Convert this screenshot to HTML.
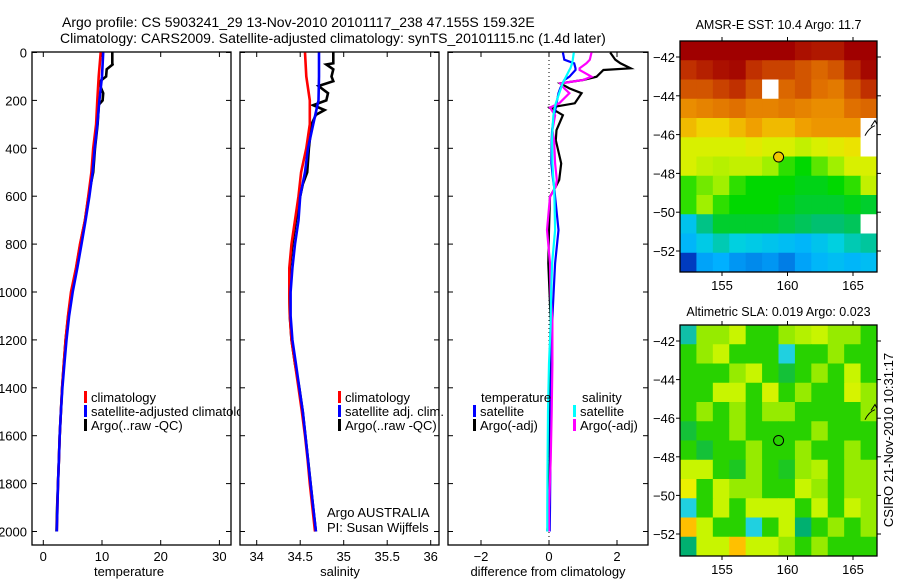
<!DOCTYPE html>
<html><head><meta charset="utf-8">
<style>
html,body{margin:0;padding:0;background:#fff;}
svg{display:block;font-family:"Liberation Sans",sans-serif;}
</style></head>
<body>
<svg id="fig" width="900" height="580" viewBox="0 0 900 580" xmlns="http://www.w3.org/2000/svg">
<rect x="0" y="0" width="900" height="580" fill="#fff"/>
<text x="62" y="27" font-size="14">Argo profile: CS 5903241_29 13-Nov-2010 20101117_238 47.155S 159.32E</text>
<text x="60" y="43" font-size="14">Climatology: CARS2009. Satellite-adjusted climatology: synTS_20101115.nc (1.4d later)</text>
<g id="g-main"></g>
</svg>
<script>
// ---------- data ----------
const depthLevels = [0,100,200,300,400,500,600,700,800,900,1000,1100,1200,1300,1400,1500,1600,1700,1800,1900,2000];
const tempClim   = [9.78,9.44,9.2,9.0,8.5,8.2,7.67,7.1,6.25,5.57,4.72,4.2,3.8,3.5,3.2,3.0,2.8,2.65,2.5,2.4,2.3];
const tempSat    = [10.2,10.0,9.55,9.2,8.75,8.4,7.85,7.2,6.5,5.8,5.0,4.4,3.95,3.6,3.25,3.0,2.8,2.65,2.5,2.4,2.3];
const salClim    = [34.555,34.57,34.61,34.61,34.57,34.51,34.48,34.44,34.4,34.375,34.375,34.38,34.4,34.44,34.48,34.52,34.555,34.585,34.61,34.64,34.67];
const salSat     = [34.716,34.716,34.71,34.65,34.59,34.555,34.5,34.48,34.44,34.41,34.39,34.39,34.41,34.45,34.49,34.53,34.56,34.59,34.62,34.65,34.68];
const argoDepth  = [0,45,50,70,100,120,140,170,200,220,240,260,300,400,500,550,600,700,800,900,1000,1100,1200,1300,1400,1500,1600,1700,1800,1900,2000];
const argoTemp   = [11.76,11.76,11.8,10.8,10.7,9.66,9.7,10.2,10.1,9.37,9.4,9.35,9.25,8.8,8.5,8.1,7.7,7.1,6.3,5.6,4.8,4.25,3.8,3.5,3.2,3.0,2.8,2.65,2.5,2.35,2.25];
const argoSal    = [34.88,34.88,34.8,34.88,34.86,34.88,34.71,34.82,34.8,34.65,34.78,34.68,34.63,34.6,34.58,34.53,34.5,34.45,34.41,34.38,34.375,34.38,34.4,34.44,34.49,34.53,34.56,34.59,34.62,34.65,34.68];
const diffDepth  = [0,30,45,66,73,101,115,129,150,170,212,230,262,324,366,463,532,560,602,741,880,1019,1130,1300,1500,1700,1900,2000];
const diffTempArgo = [1.8,1.95,2.1,2.4,1.6,1.4,1.0,0.33,0.6,0.96,0.76,0.03,0.41,0.22,0.2,0.36,0.3,0.2,0.03,0.0,-0.02,0.02,0.05,0.02,0.0,0.02,0.0,-0.05];
const diffTempSat  = [0.41,0.45,0.74,0.78,0.78,0.6,0.45,0.4,0.33,0.28,0.22,0.2,0.15,0.09,0.08,0.07,0.12,0.15,0.18,0.28,0.18,0.13,0.09,0.07,0.05,0.04,0.03,0.02];
const diffSalArgo  = [1.25,1.2,1.1,0.9,0.9,1.25,1.0,0.33,0.45,0.6,0.3,0.03,0.18,0.1,0.15,0.18,0.23,0.2,0.03,-0.06,0.03,0.05,0.1,0.1,0.08,0.05,0.0,0.0];
const diffSalSat   = [0.73,0.7,0.68,0.63,0.6,0.5,0.45,0.4,0.35,0.3,0.2,0.17,0.13,0.1,0.09,0.1,0.13,0.15,0.16,0.18,0.09,0.06,0.05,0.0,-0.03,-0.04,-0.05,-0.05];
const tempTicks = [0,10,20,30];
const salTicks = [34,34.5,35,35.5,36];
const salTickLabels = ["34","34.5","35","35.5","36"];
const diffTicks = [-2,0,2];
const depthTicks = [0,200,400,600,800,1000,1200,1400,1600,1800,2000];
const lonTicks = [155,160,165];
const latTicks = [-42,-44,-46,-48,-50,-52];
// SST grid (deg C), rows north->south, null = no data
const sstGrid = [
[14,14,14,14,14,13.8,13.8,13.6,13.5,13.5,13.8,14],
[13.2,13.4,13.6,13.7,13.2,13,13,12.8,12.6,12.8,13.3,13.7],
[12.8,12.8,13,13.2,12.8,null,12.6,12.8,12.5,12.4,12.8,13.2],
[12.2,12.3,12.4,12.5,12.3,12.3,12.4,12.3,12.2,12.2,12.5,12.6],
[11.8,11.6,11.6,11.8,12.0,11.8,11.8,12.0,12.1,12.1,12.1,null],
[11,11,11,11,11.2,11,11,10.8,11,11.2,11.4,null],
[11,10.8,10.7,10.8,10.8,10.5,10,9.8,10.2,10.5,11,11],
[10,10.3,10.5,10,9.8,9.8,9.8,9.7,9.7,9.8,10,10.8],
[10,10.5,10,9.8,9.8,9.8,9.7,9.6,9.6,9.6,9.7,9.6],
[8.6,9.2,9.6,9.6,9.6,9.6,9.5,9.4,9.3,9.3,9.4,null],
[8.4,8.7,9,8.8,8.7,8.6,8.5,8.4,8.6,8.8,9,9.1],
[7.4,8.2,8.3,8.1,8.0,8.1,7.9,8.2,8.4,8.5,8.4,8.5]];
// SLA grid (m)
const slaGrid = [
[-0.15,0.05,0.05,0.1,0,0,0.05,0.08,0.1,0.05,0.05,0],
[0,0.05,0.1,0,0,0,-0.2,0,0,0.05,0,0],
[0,0,0,0.05,0.1,0,-0.05,0,0.05,0,0.1,0],
[0,0,0.1,0.1,0,0.12,0,0.05,0,0,0.12,0.05],
[0,0.05,0,0.05,0,0.05,0.05,0,0,0,0,0.05],
[-0.05,0,0,0.05,0,0,0,0,0.05,0,0,0],
[0,-0.05,0,0,0.05,0,0,0.05,0,0,0.05,0],
[0.1,0.1,0,-0.03,0.05,0,-0.03,0.05,0.08,0,0.05,0.05],
[0.15,0,0.1,0.05,0.05,0,0,0.1,0.05,0,0.05,0.05],
[-0.2,0,0.1,0,0.1,0.1,0.1,0,0.1,0,0.1,0.05],
[0.2,0.1,0,0,-0.2,0,0.1,-0.1,0,0.05,0,0.05],
[-0.1,0.1,0.1,0.2,0.1,0.1,0.05,0,0.05,0,0,0]];
const floatLon = 159.32, floatLat = -47.155;

// ---------- scales ----------
const NS="http://www.w3.org/2000/svg";
const root=document.getElementById('g-main');
const yD = d => 52.5 + d*0.2395;
const xT = v => 43.3 + v*5.87;
const xS = v => 256.7 + (v-34)*87;
const xD = v => 549 + v*34;
const xLon = v => 722 + (v-155)*13.1;
const yLatTop = v => 57 + (-42 - v)*19.4;
const yLatBot = v => 341 + (-42 - v)*19.3;

function mk(tag, attrs, parent){const e=document.createElementNS(NS,tag);for(const k in attrs)e.setAttribute(k,attrs[k]);(parent||root).appendChild(e);return e;}
function txt(x,y,s,size,anchor,parent){const t=mk('text',{x:x,y:y,'font-size':size,'text-anchor':anchor||'start'},parent);t.textContent=s;return t;}

function panel(name,x0,x1,y0,y1){
  const g=mk('g',{});
  
  
  const r=mk('rect',{x:x0,y:y0,width:x1-x0,height:y1-y0,fill:'#fff',stroke:'#000','stroke-width':1.3},g);
  
  
  return g;
}
function depthTicksOn(g,x0,x1,labels){
  depthTicks.forEach(d=>{
    const y=yD(d);
    mk('line',{x1:x0,y1:y,x2:x0+5,y2:y,stroke:'#000'},g);
    mk('line',{x1:x1-5,y1:y,x2:x1,y2:y,stroke:'#000'},g);
    if(labels){const t=txt(27,y+5,String(d),13,'end',g);
      
      }
  });
}
function xTicksOn(g,vals,labs,fx,y0,y1){
  vals.forEach((v,i)=>{
    const x=fx(v);
    mk('line',{x1:x,y1:y0,x2:x,y2:y0+5,stroke:'#000'},g);
    mk('line',{x1:x,y1:y1-5,x2:x,y2:y1,stroke:'#000'},g);
    const t=txt(x,561,labs[i],13,'middle',g);
    
    
  });
}
function line(g,xs,ds,fx,color,name,w){
  const pts=xs.map((v,i)=>fx(v).toFixed(1)+','+yD(ds[i]).toFixed(1)).join(' ');
  const p=mk('polyline',{points:pts,fill:'none',stroke:color,'stroke-width':w||2.6,'stroke-linejoin':'miter'},g);
  
  
}
function legend(g,x,y,color,label,name){
  mk('rect',{x:x,y:y-11,width:3,height:12,fill:color},g);
  const t=txt(x+7,y,label,13,'start',g);
  
  
}

// ---------- panel 1: temperature ----------
const p1=panel('temperature-panel',32,231,52,545);
depthTicksOn(p1,32,231,true);
xTicksOn(p1,tempTicks,tempTicks.map(String),xT,52,545);
line(p1,argoTemp,argoDepth,xT,'#000','argo-temperature-line');
line(p1,tempClim,depthLevels,xT,'#f00','climatology-temperature-line');
line(p1,tempSat,depthLevels,xT,'#00f','satellite-temperature-line');
legend(p1,84,402,'#f00','climatology','legend-climatology');
legend(p1,84,416,'#00f','satellite-adjusted climatology','legend-satellite-adjusted');
legend(p1,84,430,'#000','Argo(..raw -QC)','legend-argo');
const xl1=txt(129,576,'temperature',13,'middle',p1);



// ---------- panel 2: salinity ----------
const p2=panel('salinity-panel',240,439,52,545);
depthTicksOn(p2,240,439,false);
xTicksOn(p2,salTicks,salTickLabels,xS,52,545);
line(p2,argoSal,argoDepth,xS,'#000','argo-salinity-line');
line(p2,salClim,depthLevels,xS,'#f00','climatology-salinity-line');
line(p2,salSat,depthLevels,xS,'#00f','satellite-salinity-line');
legend(p2,338,402,'#f00','climatology','legend-climatology-sal');
legend(p2,338,416,'#00f','satellite adj. clim.','legend-satellite-sal');
legend(p2,338,430,'#000','Argo(..raw -QC)','legend-argo-sal');
const ag1=txt(327,517,'Argo AUSTRALIA',13,'start',p2);


const ag2=txt(327,532,'PI: Susan Wijffels',13,'start',p2);


const xl2=txt(340,576,'salinity',13,'middle',p2);



// ---------- panel 3: difference ----------
const p3=panel('difference-panel',448,648,52,545);
depthTicksOn(p3,448,648,false);
xTicksOn(p3,diffTicks,diffTicks.map(v=>v<0?'\u2212'+(-v):String(v)),xD,52,545);
const z=mk('line',{x1:xD(0),y1:52,x2:xD(0),y2:545,stroke:'#000','stroke-dasharray':'1,3','stroke-width':1},p3);


line(p3,diffTempArgo,diffDepth,xD,'#000','argo-temperature-diff-line',2.2);
line(p3,diffTempSat,diffDepth,xD,'#00f','satellite-temperature-diff-line',2.2);
line(p3,diffSalArgo,diffDepth,xD,'#f0f','argo-salinity-diff-line',2.2);
line(p3,diffSalSat,diffDepth,xD,'#0ff','satellite-salinity-diff-line',2.2);
const lt=txt(481,402,'temperature',13,'start',p3);


legend(p3,473,416,'#00f','satellite','legend-temp-satellite');
legend(p3,473,430,'#000','Argo(-adj)','legend-temp-argo');
const ls=txt(582,402,'salinity',13,'start',p3);


legend(p3,573,416,'#0ff','satellite','legend-sal-satellite');
legend(p3,573,430,'#f0f','Argo(-adj)','legend-sal-argo');
const xl3=txt(548,576,'difference from climatology',13,'middle',p3);



// ---------- maps ----------
const sstStops=[[7.2,[0,32,176]],[7.8,[0,112,224]],[8.3,[0,176,255]],[8.8,[0,208,224]],[9.3,[0,192,112]],[9.8,[0,216,0]],[10.5,[160,240,0]],[11.0,[216,240,0]],[11.5,[240,224,0]],[12.0,[240,160,0]],[12.5,[224,112,0]],[13.2,[192,48,0]],[13.8,[160,0,0]]];
const slaStops=[[-0.2,[32,208,224]],[-0.1,[0,176,112]],[0,[40,210,0]],[0.05,[150,235,0]],[0.1,[200,245,0]],[0.15,[235,240,0]],[0.2,[255,192,0]]];
function cmap(stops,v){
  if(v<=stops[0][0])return 'rgb('+stops[0][1]+')';
  for(let i=1;i<stops.length;i++){
    if(v<=stops[i][0]){const a=stops[i-1],b=stops[i],t=(v-a[0])/(b[0]-a[0]);
      return 'rgb('+a[1].map((c,k)=>Math.round(c+(b[1][k]-c)*t)).join(',')+')';}
  }
  return 'rgb('+stops[stops.length-1][1]+')';
}
function map(name,grid,stops,x0,x1,y0,y1,yLat,title,titleY){
  const g=mk('g',{});
  
  
  const rows=grid.length, cols=grid[0].length, cw=(x1-x0)/cols, ch=(y1-y0)/rows;
  grid.forEach((row,r)=>row.forEach((v,c)=>{
    const cell=mk('rect',{x:(x0+c*cw).toFixed(2),y:(y0+r*ch).toFixed(2),width:(cw+0.5).toFixed(2),height:(ch+0.5).toFixed(2),fill:v===null?'#fff':cmap(stops,v)},g);
    
    
  }));
  mk('path',{d:`M${x1-6},${y0+(y1-y0)*0.37} l4,-6 l2,4 M${x1-12},${y0+(y1-y0)*0.41} q4,-8 10,-10`,fill:'none',stroke:'#000','stroke-width':1},g);
  const fr=mk('rect',{x:x0,y:y0,width:x1-x0,height:y1-y0,fill:'none',stroke:'#000','stroke-width':1.3},g);
  
  
  lonTicks.forEach(v=>{const x=xLon(v);
    mk('line',{x1:x,y1:y0,x2:x,y2:y0-4,stroke:'#000'},g);
    mk('line',{x1:x,y1:y1,x2:x,y2:y1+4,stroke:'#000'},g);
    const t=txt(x,y1+18,String(v),13,'middle',g);
    
    });
  latTicks.forEach(v=>{const y=yLat(v);
    mk('line',{x1:x0,y1:y,x2:x0-4,y2:y,stroke:'#000'},g);
    mk('line',{x1:x1,y1:y,x2:x1+4,y2:y,stroke:'#000'},g);
    const t=txt(675,y+5,'\u2212'+(-v),13,'end',g);
    
    });
  const mt=txt((x0+x1)/2,titleY,title,12.5,'middle',g);
  
  
  return g;
}
const m1=map('sst-map',sstGrid,sstStops,680,877,41,272,yLatTop,'AMSR-E SST: 10.4 Argo: 11.7',29);
const c1=mk('circle',{cx:xLon(floatLon),cy:yLatTop(floatLat),r:5,fill:cmap(sstStops,11.7),stroke:'#000','stroke-width':1},m1);


const m2=map('sla-map',slaGrid,slaStops,680,877,325,556,yLatBot,'Altimetric SLA: 0.019 Argo: 0.023',316);
const c2=mk('circle',{cx:xLon(floatLon),cy:yLatBot(floatLat),r:5,fill:'none',stroke:'#000','stroke-width':1},m2);


const cs=txt(0,0,'CSIRO 21-Nov-2010 10:31:17',13,'middle');
cs.setAttribute('transform','translate(893,440) rotate(-90)');


</script>
</body></html>
